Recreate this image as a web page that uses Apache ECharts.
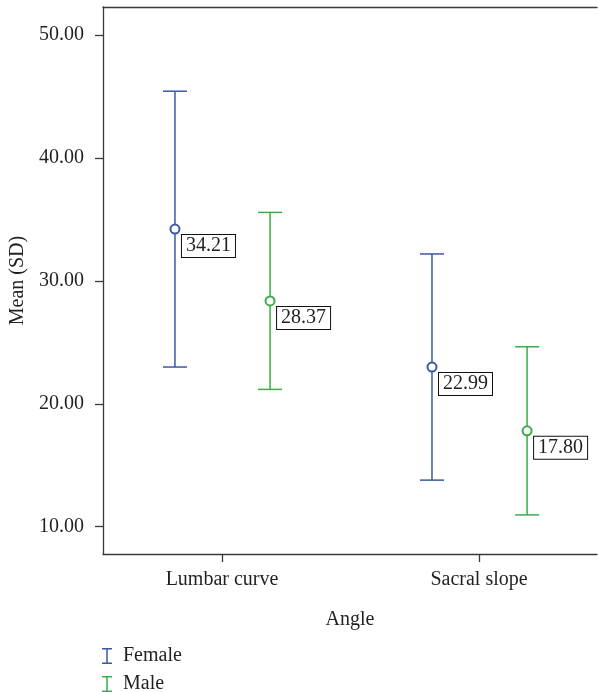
<!DOCTYPE html>
<html>
<head>
<meta charset="utf-8">
<script src="https://cdn.jsdelivr.net/npm/echarts@6/dist/echarts.min.js"></script>
<style>
html,body{margin:0;padding:0;background:#fff;}
#chart{width:598px;height:692px;}
</style>
</head>
<body>
<div id="chart"></div>
<script>
// ---- data ----
const categories = ['Lumbar curve', 'Sacral slope'];
const seriesNames = ['Female', 'Male'];
const femaleMean = [34.21, 22.99];
const femaleSD = [11.22, 9.20];
const maleMean = [28.37, 17.80];
const maleSD = [7.20, 6.84];
const yTicks = [10, 20, 30, 40, 50];

// ---- style ----
const BLUE = '#3d57a6';
const GREEN = '#3aad47';
const FONT = '"Liberation Serif", "DejaVu Serif", serif';
const TEXT = '#231f20';
const AXIS = '#3a3a3a';
const OFFSET_F = -0.183, OFFSET_M = 0.187;
const XMIN = -0.463, XMAX = 1.459;

const chart = echarts.init(document.getElementById('chart'));

function barData(means, sds, off) {
  return means.map((m, i) => [i + off, m, sds[i]]);
}
function pointData(means, off) {
  return means.map((m, i) => [i + off, m]);
}

function makeRender(color) {
  return function (params, api) {
    const x = api.value(0), m = api.value(1), sd = api.value(2);
    const t = api.coord([x, m + sd]);
    const b = api.coord([x, m - sd]);
    const hw = 12;
    const style = { stroke: color, lineWidth: 1.5, fill: null };
    return {
      type: 'group',
      children: [
        { type: 'line', shape: { x1: t[0], y1: t[1], x2: b[0], y2: b[1] }, style },
        { type: 'line', shape: { x1: t[0] - hw, y1: t[1], x2: t[0] + hw, y2: t[1] }, style },
        { type: 'line', shape: { x1: b[0] - hw, y1: b[1], x2: b[0] + hw, y2: b[1] }, style }
      ]
    };
  };
}

const ibar = 'path://M0,0h10v1.5h-10z M4.25,0h1.5v16h-1.5z M0,14.5h10v1.5h-10z';

const labelStyle = {
  show: true,
  position: [12.5, 11.5],
  align: 'left',
  verticalAlign: 'top',
  fontFamily: FONT,
  fontSize: 20,
  color: TEXT,
  backgroundColor: '#fff',
  borderColor: '#111',
  borderWidth: 1,
  padding: [1, 4, 1, 4],
  formatter: p => p.value[1].toFixed(2)
};

function legendFor(name, top) {
  return {
    orient: 'vertical',
    left: 102, top: top,
    padding: 0,
    itemWidth: 10, itemHeight: 16,
    textStyle: { fontFamily: FONT, fontSize: 20, lineHeight: 20, color: TEXT, padding: [0, 0, 0, 6] },
    data: [{ name: name, icon: ibar }]
  };
}

chart.setOption({
  animation: false,
  backgroundColor: '#fff',
  grid: { left: 103, top: 7, right: 1, bottom: 138 },
  legend: [legendFor(seriesNames[0], 646), legendFor(seriesNames[1], 674)],
  xAxis: [{
    type: 'value',
    min: XMIN, max: XMAX,
    name: 'Angle',
    nameLocation: 'middle',
    nameGap: 56,
    nameTextStyle: { fontFamily: FONT, fontSize: 20, color: TEXT },
    axisLine: { show: true, onZero: false, lineStyle: { color: AXIS, width: 1.3 } },
    axisTick: { show: true, length: 8, customValues: [0, 1], lineStyle: { color: AXIS, width: 1.3 } },
    axisLabel: {
      customValues: [0, 1],
      margin: 16,
      fontFamily: FONT, fontSize: 20, color: TEXT,
      formatter: v => categories[Math.round(v)] || ''
    },
    splitLine: { show: false }
  }, {
    type: 'value',
    position: 'top',
    min: XMIN, max: XMAX,
    axisLine: { show: true, onZero: false, lineStyle: { color: AXIS, width: 1.3 } },
    axisTick: { show: false },
    axisLabel: { show: false },
    splitLine: { show: false }
  }],
  yAxis: {
    type: 'value',
    min: 7.78, max: 52.28,
    name: 'Mean (SD)',
    nameLocation: 'middle',
    nameGap: 72,
    nameTextStyle: { fontFamily: FONT, fontSize: 20, color: TEXT },
    axisLine: { show: true, onZero: false, lineStyle: { color: AXIS, width: 1.3 } },
    axisTick: { show: true, length: 8, inside: false, customValues: yTicks, lineStyle: { color: AXIS, width: 1.3 } },
    axisLabel: {
      customValues: yTicks,
      margin: 19,
      fontFamily: FONT, fontSize: 20, color: TEXT,
      formatter: v => v.toFixed(2)
    },
    splitLine: { show: false }
  },
  series: [
    {
      name: seriesNames[0], type: 'custom', color: BLUE,
      renderItem: makeRender(BLUE),
      data: barData(femaleMean, femaleSD, OFFSET_F)
    },
    {
      name: seriesNames[1], type: 'custom', color: GREEN,
      renderItem: makeRender(GREEN),
      data: barData(maleMean, maleSD, OFFSET_M)
    },
    {
      name: seriesNames[0], type: 'scatter', color: BLUE,
      symbol: 'emptyCircle', symbolSize: 9,
      itemStyle: { color: BLUE, borderColor: BLUE, borderWidth: 1.5, opacity: 1 },
      label: labelStyle,
      data: pointData(femaleMean, OFFSET_F), z: 5
    },
    {
      name: seriesNames[1], type: 'scatter', color: GREEN,
      symbol: 'emptyCircle', symbolSize: 9,
      itemStyle: { color: GREEN, borderColor: GREEN, borderWidth: 1.5, opacity: 1 },
      label: labelStyle,
      data: pointData(maleMean, OFFSET_M), z: 5
    }
  ]
});
</script>
</body>
</html>
